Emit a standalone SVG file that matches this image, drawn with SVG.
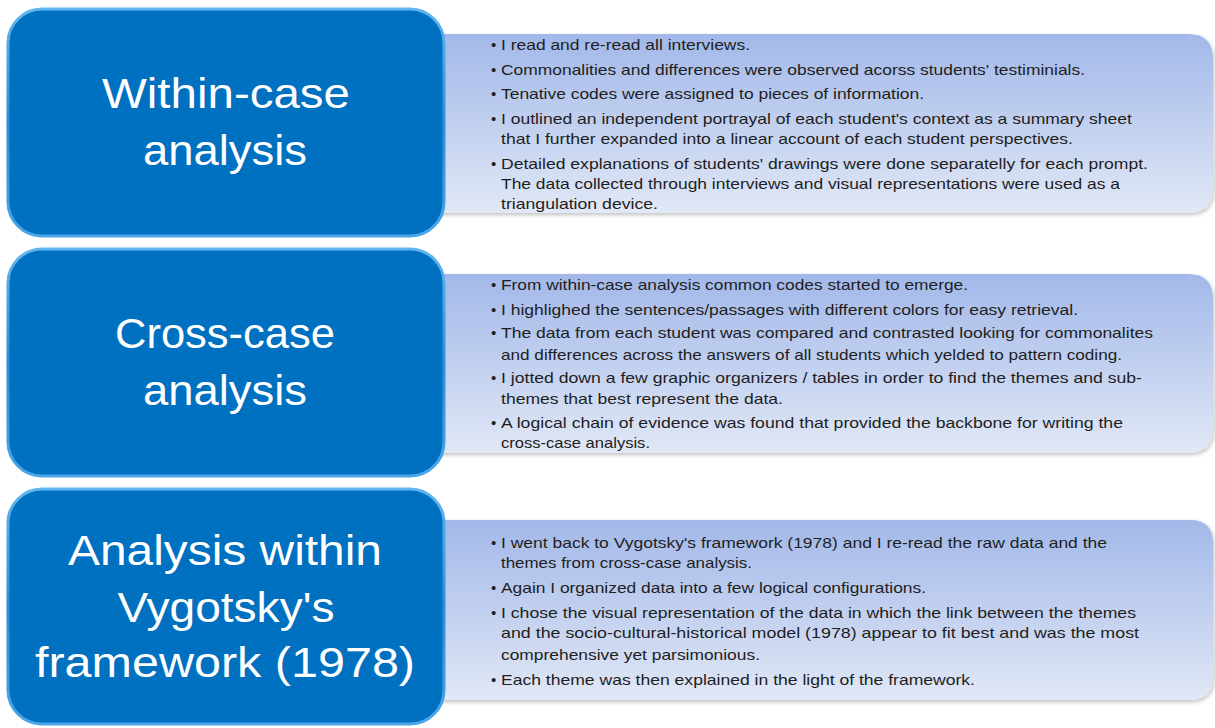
<svg xmlns="http://www.w3.org/2000/svg" width="1215" height="728" viewBox="0 0 1215 728">
<defs>
<linearGradient id="pg" x1="0" y1="0" x2="0" y2="1">
<stop offset="0" stop-color="#a2b8e9"/>
<stop offset="1" stop-color="#e1e8f6"/>
</linearGradient>
<linearGradient id="bs" x1="0" y1="0" x2="0" y2="1">
<stop offset="0" stop-color="#62b6f0"/>
<stop offset="0.5" stop-color="#2d8fd8"/>
<stop offset="1" stop-color="#4aa6e8"/>
</linearGradient>
<filter id="sh" x="-5%" y="-10%" width="110%" height="125%">
<feGaussianBlur in="SourceAlpha" stdDeviation="2"/>
<feOffset dx="1" dy="2" result="b"/>
<feComponentTransfer><feFuncA type="linear" slope="0.25"/></feComponentTransfer>
<feMerge><feMergeNode/><feMergeNode in="SourceGraphic"/></feMerge>
</filter>
</defs>
<style>
.panel{fill:url(#pg);filter:url(#sh)}
.box{fill:#0070c0;stroke:url(#bs);stroke-width:3}
.t{font-family:"Liberation Sans",Arial,sans-serif;font-size:15px;fill:#1e1e1e}
.h{font-family:"Liberation Sans",Arial,sans-serif;font-size:42px;fill:#ffffff;text-anchor:middle}
</style>
<rect width="1215" height="728" fill="#ffffff"/>

<g id="panel1">
<path class="panel" d="M430 34 H1188 Q1213 34 1213 59 V188 Q1213 213 1188 213 H430 Z"/>
<g class="t">
<text x="491" y="50">•</text><text x="501" y="50" textLength="249" lengthAdjust="spacingAndGlyphs">I read and re-read all interviews.</text>
<text x="491" y="75">•</text><text x="501" y="75" textLength="584" lengthAdjust="spacingAndGlyphs">Commonalities and differences were observed acorss students' testiminials.</text>
<text x="491" y="99">•</text><text x="501" y="99" textLength="423" lengthAdjust="spacingAndGlyphs">Tenative codes were assigned to pieces of information.</text>
<text x="491" y="124">•</text><text x="501" y="124" textLength="631" lengthAdjust="spacingAndGlyphs">I outlined an independent portrayal of each student's context as a summary sheet</text>
<text x="501" y="144" textLength="572" lengthAdjust="spacingAndGlyphs">that I further expanded into a linear account of each student perspectives.</text>
<text x="491" y="169">•</text><text x="501" y="169" textLength="647" lengthAdjust="spacingAndGlyphs">Detailed explanations of students' drawings were done separatelly for each prompt.</text>
<text x="501" y="189" textLength="619" lengthAdjust="spacingAndGlyphs">The data collected through interviews and visual representations were used as a</text>
<text x="501" y="209" textLength="157" lengthAdjust="spacingAndGlyphs">triangulation device.</text>
</g>
</g>

<g id="panel2">
<path class="panel" d="M430 274 H1188 Q1213 274 1213 299 V428 Q1213 453 1188 453 H430 Z"/>
<g class="t">
<text x="491" y="290">•</text><text x="501" y="290" textLength="467" lengthAdjust="spacingAndGlyphs">From within-case analysis common codes started to emerge.</text>
<text x="491" y="315">•</text><text x="501" y="315" textLength="577" lengthAdjust="spacingAndGlyphs">I highlighed the sentences/passages with different colors for easy retrieval.</text>
<text x="491" y="338">•</text><text x="501" y="338" textLength="652" lengthAdjust="spacingAndGlyphs">The data from each student was compared and contrasted looking for commonalites</text>
<text x="501" y="360" textLength="621" lengthAdjust="spacingAndGlyphs">and differences across the answers of all students which yelded to pattern coding.</text>
<text x="491" y="383">•</text><text x="501" y="383" textLength="641" lengthAdjust="spacingAndGlyphs">I jotted down a few graphic organizers / tables in order to find the themes and sub-</text>
<text x="501" y="404" textLength="282" lengthAdjust="spacingAndGlyphs">themes that best represent the data.</text>
<text x="491" y="428">•</text><text x="501" y="428" textLength="622" lengthAdjust="spacingAndGlyphs">A logical chain of evidence was found that provided the backbone for writing the</text>
<text x="501" y="448" textLength="149" lengthAdjust="spacingAndGlyphs">cross-case analysis.</text>
</g>
</g>

<g id="panel3">
<path class="panel" d="M430 520 H1190 Q1213 520 1213 543 V677 Q1213 700 1190 700 H430 Z"/>
<g class="t">
<text x="491" y="548">•</text><text x="501" y="548" textLength="606" lengthAdjust="spacingAndGlyphs">I went back to Vygotsky's framework (1978) and I re-read the raw data and the</text>
<text x="501" y="568" textLength="251" lengthAdjust="spacingAndGlyphs">themes from cross-case analysis.</text>
<text x="491" y="593">•</text><text x="501" y="593" textLength="425" lengthAdjust="spacingAndGlyphs">Again I organized data into a few logical configurations.</text>
<text x="491" y="618">•</text><text x="501" y="618" textLength="635" lengthAdjust="spacingAndGlyphs">I chose the visual representation of the data in which the link between the themes</text>
<text x="501" y="638" textLength="638" lengthAdjust="spacingAndGlyphs">and the socio-cultural-historical model (1978) appear to fit best and was the most</text>
<text x="501" y="660" textLength="259" lengthAdjust="spacingAndGlyphs">comprehensive yet parsimonious.</text>
<text x="491" y="685">•</text><text x="501" y="685" textLength="474" lengthAdjust="spacingAndGlyphs">Each theme was then explained in the light of the framework.</text>
</g>
</g>

<g id="box1">
<rect class="box" x="8" y="9" width="436" height="227" rx="34" ry="34"/>
<text class="h" x="226" y="108" textLength="248" lengthAdjust="spacingAndGlyphs">Within-case</text>
<text class="h" x="225" y="165" textLength="164" lengthAdjust="spacingAndGlyphs">analysis</text>
</g>

<g id="box2">
<rect class="box" x="8" y="249" width="436" height="227" rx="34" ry="34"/>
<text class="h" x="225" y="348" textLength="220" lengthAdjust="spacingAndGlyphs">Cross-case</text>
<text class="h" x="225" y="405" textLength="164" lengthAdjust="spacingAndGlyphs">analysis</text>
</g>

<g id="box3">
<rect class="box" x="8" y="489" width="436" height="235" rx="34" ry="34"/>
<text class="h" x="225" y="565" textLength="314" lengthAdjust="spacingAndGlyphs">Analysis within</text>
<text class="h" x="226" y="622" textLength="217" lengthAdjust="spacingAndGlyphs">Vygotsky's</text>
<text class="h" x="225" y="677" textLength="380" lengthAdjust="spacingAndGlyphs">framework (1978)</text>
</g>

<g id="connectors"></g>
</svg>
